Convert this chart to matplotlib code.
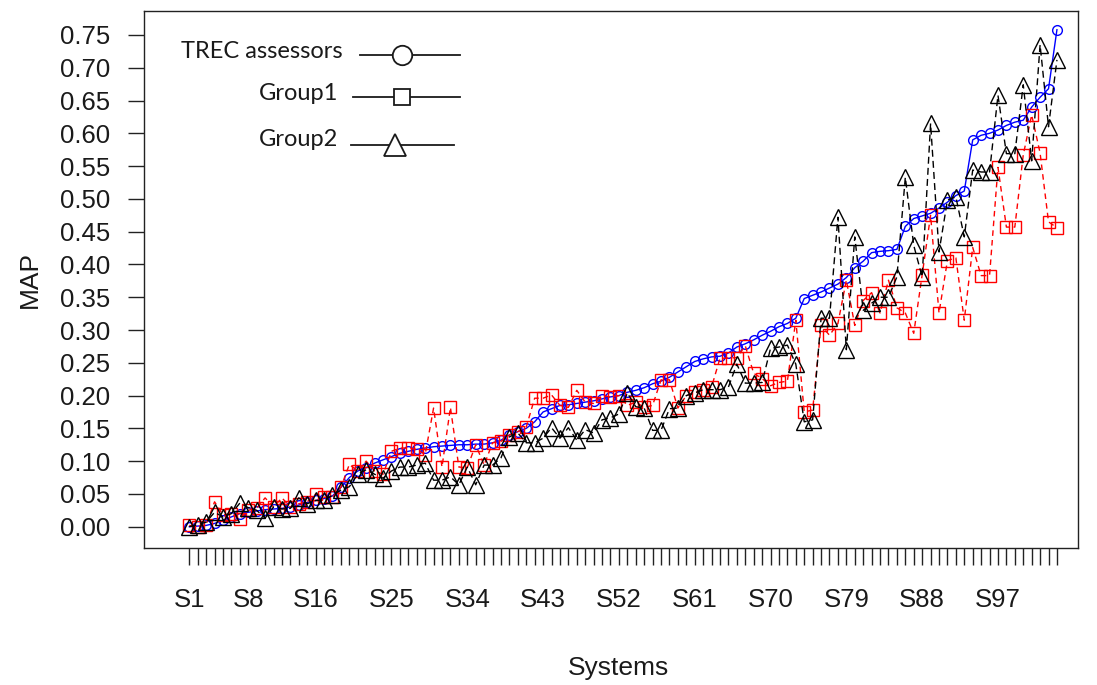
import numpy as np
import matplotlib
matplotlib.use("Agg")
import matplotlib.pyplot as plt
from matplotlib.lines import Line2D

# systems S1..S104
systems = ["S%d" % i for i in range(1, 105)]
shown_labels = ["S1", "S8", "S16", "S25", "S34", "S43", "S52", "S61", "S70", "S79", "S88", "S97"]

# MAP - TREC assessors (sorted)
trec = [0.000, 0.001, 0.002, 0.005, 0.010, 0.015, 0.020, 0.022, 0.024, 0.026,
        0.027, 0.028, 0.030, 0.033, 0.037, 0.040, 0.043, 0.047, 0.060, 0.075,
        0.085, 0.090, 0.097, 0.102, 0.107, 0.112, 0.115, 0.118, 0.120, 0.122,
        0.123, 0.124, 0.125, 0.125, 0.126, 0.126, 0.128, 0.132, 0.140, 0.145,
        0.150, 0.160, 0.175, 0.180, 0.185, 0.186, 0.188, 0.190, 0.192, 0.195,
        0.198, 0.200, 0.205, 0.208, 0.212, 0.218, 0.222, 0.228, 0.236, 0.244,
        0.252, 0.256, 0.259, 0.260, 0.265, 0.274, 0.279, 0.285, 0.292, 0.298,
        0.305, 0.310, 0.318, 0.348, 0.353, 0.358, 0.364, 0.370, 0.380, 0.395,
        0.405, 0.418, 0.420, 0.421, 0.423, 0.458, 0.470, 0.474, 0.478, 0.486,
        0.495, 0.505, 0.512, 0.590, 0.597, 0.600, 0.605, 0.612, 0.617, 0.620,
        0.640, 0.655, 0.668, 0.758]

# MAP - Group1
group1 = [0.002, 0.000, 0.003, 0.038, 0.018, 0.020, 0.012, 0.025, 0.028, 0.044,
          0.030, 0.044, 0.030, 0.035, 0.038, 0.050, 0.045, 0.045, 0.060, 0.095,
          0.085, 0.100, 0.085, 0.080, 0.115, 0.120, 0.120, 0.118, 0.110, 0.181,
          0.091, 0.182, 0.091, 0.090, 0.125, 0.094, 0.128, 0.130, 0.140, 0.145,
          0.152, 0.196, 0.196, 0.201, 0.185, 0.182, 0.208, 0.190, 0.188, 0.200,
          0.198, 0.200, 0.185, 0.190, 0.182, 0.185, 0.224, 0.224, 0.181, 0.200,
          0.205, 0.208, 0.213, 0.257, 0.257, 0.258, 0.276, 0.234, 0.226, 0.215,
          0.220, 0.222, 0.315, 0.175, 0.178, 0.307, 0.292, 0.310, 0.376, 0.307,
          0.345, 0.357, 0.326, 0.376, 0.334, 0.326, 0.295, 0.384, 0.475, 0.326,
          0.406, 0.410, 0.315, 0.426, 0.383, 0.383, 0.548, 0.457, 0.457, 0.567,
          0.628, 0.570, 0.465, 0.456]

# MAP - Group2
group2 = [0.000, 0.003, 0.007, 0.022, 0.015, 0.020, 0.036, 0.029, 0.025, 0.013,
          0.030, 0.027, 0.028, 0.044, 0.035, 0.040, 0.040, 0.048, 0.056, 0.061,
          0.080, 0.087, 0.080, 0.074, 0.085, 0.091, 0.091, 0.094, 0.097, 0.071,
          0.071, 0.076, 0.064, 0.091, 0.064, 0.094, 0.094, 0.105, 0.137, 0.143,
          0.128, 0.128, 0.135, 0.151, 0.135, 0.151, 0.132, 0.148, 0.143, 0.163,
          0.166, 0.172, 0.204, 0.183, 0.181, 0.147, 0.147, 0.180, 0.181, 0.200,
          0.204, 0.209, 0.209, 0.209, 0.213, 0.248, 0.219, 0.219, 0.220, 0.272,
          0.274, 0.277, 0.248, 0.160, 0.163, 0.318, 0.318, 0.472, 0.270, 0.442,
          0.330, 0.341, 0.350, 0.350, 0.381, 0.533, 0.429, 0.381, 0.615, 0.419,
          0.498, 0.503, 0.442, 0.544, 0.541, 0.541, 0.658, 0.569, 0.569, 0.674,
          0.558, 0.735, 0.610, 0.712]

W, H = 1097, 685
fig = plt.figure(figsize=(W / 100, H / 100), dpi=100)
ax = fig.add_axes([144.3 / W, 1 - 547.7 / H, (1078 - 144.3) / W, (547.7 - 10.7) / H])

x = np.arange(1, len(systems) + 1)

ax.plot(x, trec, color="blue", lw=1.0, marker="o", ms=7, mfc="none", mec="blue", mew=1.0, zorder=3)
ax.plot(x, group1, color="red", lw=1.0, ls=(0, (4, 3)), marker="s", ms=8.5, mfc="none", mec="red", mew=1.0, zorder=4)
ax.plot(x, group2, color="black", lw=1.0, ls=(0, (5, 3)), marker="^", ms=11, mfc="none", mec="black", mew=1.0, zorder=5)

ax.set_xlim(-4.34, 106.5)
ax.set_ylim(-0.032, 0.787)

ax.set_xticks(x)
ax.set_xticklabels([s if s in shown_labels else "" for s in systems])
yt = np.arange(0, 0.76, 0.05)
ax.set_yticks(yt)
ax.set_yticklabels(["%.2f" % v for v in yt])

for sp in ax.spines.values():
    sp.set_linewidth(1.0)
    sp.set_color("#222222")

ax.tick_params(axis="x", length=12, width=1.0, pad=17, labelsize=18.5, color="#222222")
ax.tick_params(axis="y", length=11.5, width=1.0, pad=13, labelsize=18.5, color="#222222")
for lab in ax.get_xticklabels() + ax.get_yticklabels():
    lab.set_fontfamily("Liberation Sans")
    lab.set_color("#1a1a1a")

fig.text(30 / W, 1 - 280 / H, "MAP", rotation=90, ha="center", va="center",
         fontsize=19, family="Liberation Sans", color="#1a1a1a")
fig.text(618 / W, 1 - 668 / H, "Systems", ha="center", va="center",
         fontsize=19, family="Liberation Sans", color="#1a1a1a")

# legend drawn by hand, like the pasted one in the original
leg = [("TREC assessors", 343, 51, 360, 460, 55, 402, "o", 14),
       ("Group1", 338, 93, 353, 460, 97, 402, "s", 11.5),
       ("Group2", 338, 140, 351, 454, 145, 395, "^", 16)]
for name, tx, ty, x0, x1, ly, mx, mk, ms in leg:
    fig.text(tx / W, 1 - ty / H, name, ha="right", va="center", fontsize=17,
             family="Lato", color="#1a1a1a")
    fig.add_artist(Line2D([x0 / W, x1 / W], [1 - ly / H, 1 - ly / H],
                          transform=fig.transFigure, color="#1a1a1a", lw=1.3))
    fig.add_artist(Line2D([mx / W], [1 - ly / H], transform=fig.transFigure,
                          marker=mk, ms=ms, mfc="white", mec="#1a1a1a", mew=1.3, lw=0))

fig.savefig("out.png", dpi=100)
